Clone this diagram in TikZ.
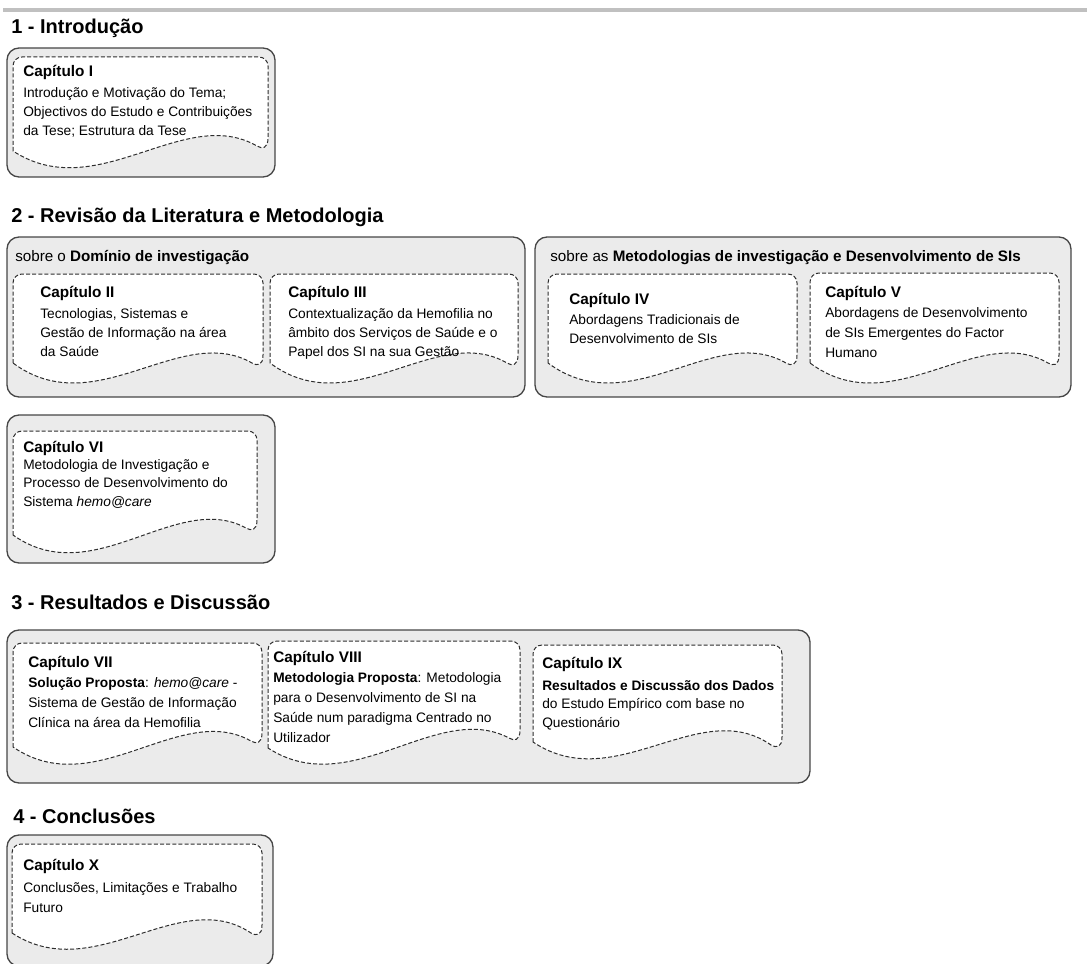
\documentclass[tikz,border=0pt]{standalone}
\usepackage{fontspec}
\setmainfont{Liberation Sans}
\definecolor{boxfill}{RGB}{235,235,235}
\definecolor{boxline}{RGB}{70,70,70}
\definecolor{docdash}{RGB}{45,45,45}
\definecolor{rulegray}{RGB}{192,192,192}

% dashed "document" sheet: #1 left x, #2 right x, #3 top y,
% #4 wave start (left), #5 wave trough, #6 wave end (right)
\newcommand\docbox[6]{%
  \draw[docline] (#1,#4) -- (#1,#3+9) .. controls (#1,#3+4) and (#1+4,#3) .. (#1+9,#3)
    -- (#2-9,#3) .. controls (#2-4,#3) and (#2,#3+4) .. (#2,#3+9)
    -- (#2,#6-10) .. controls (#2,#6+1) and (#2-6,#6+1) .. (#2-11,#6-2)
    .. controls ({#1+0.67*(#2-#1)},#5-62) and ({#1+0.33*(#2-#1)},#5+40) .. (#1,#4) -- cycle;}

% body lines of a chapter: #1 name prefix, #2 x, #3 first baseline, #4 line pitch, #5 lines
\newcommand\bodylines[5]{%
  \foreach \txt [count=\k] in {#5} {\node[bodytext] (#1-\k) at (#2,{#3+(\k-1)*#4}) {\txt};}}

\begin{document}
\begin{tikzpicture}[x=0.75pt,y=-0.75pt,
  sectiontitle/.style={anchor=base west,inner sep=0pt,font=\bfseries\fontsize{15}{18}\selectfont},
  chaptitle/.style={anchor=base west,inner sep=0pt,font=\bfseries\fontsize{11.5}{14}\selectfont},
  grouphead/.style={anchor=base west,inner sep=0pt,font=\fontsize{11.4}{14}\selectfont},
  bodytext/.style={anchor=base west,inner sep=0pt,font=\fontsize{10.3}{12}\selectfont},
  outerbox/.style={draw=boxline,fill=boxfill,line width=1pt,rounded corners=9pt},
  docline/.style={draw=docdash,fill=white,line width=0.75pt,dash pattern=on 3pt off 1.6pt},
  toprule/.style={draw=rulegray,line width=3pt}]
\useasboundingbox (0,0) rectangle (1087,963);
\clip (0,0) rectangle (1087,963);

\draw[toprule] (3,10) -- (1087,10);

% 1 - Introducao
\node[sectiontitle] (s1) at (11,34) {1 - Introdução};
\draw[outerbox] (7,48) rectangle (275,177);
\docbox{13}{268}{57}{151}{166}{148}
\node[chaptitle] (c1) at (23,77) {Capítulo I};
\bodylines{b1}{23}{98}{19}{{Introdução e Motivação do Tema;},{Objectivos do Estudo e Contribuições},{da Tese; Estrutura da Tese}}

% 2 - Revisao da Literatura e Metodologia
\node[sectiontitle] (s2) at (11,222) {2 - Revisão da Literatura e Metodologia};
\draw[outerbox] (7,237) rectangle (525,397);
\draw[outerbox] (535,237) rectangle (1071,397);
\node[grouphead] (ga) at (15,261) {sobre o \textbf{Domínio de investigação}};
\node[grouphead] (gb) at (550,261) {sobre as \textbf{Metodologias de investigação e Desenvolvimento de SIs}};

\docbox{13}{263}{274}{363}{384}{365}
\node[chaptitle] (c2) at (40,297) {Capítulo II};
\bodylines{b2}{40}{318}{19}{{Tecnologias, Sistemas  e},{Gestão de Informação na área},{da Saúde}}

\docbox{270}{518}{274}{363}{384}{365}
\node[chaptitle] (c3) at (288,297) {Capítulo III};
\bodylines{b3}{288}{318}{19}{{Contextualização da Hemofilia no},{âmbito dos Serviços de Saúde e o},{Papel dos SI na sua Gestão}}

\docbox{548}{797}{274}{363}{384}{365}
\node[chaptitle] (c4) at (569,304) {Capítulo IV};
\bodylines{b4}{569}{324}{19.5}{{Abordagens Tradicionais de},{Desenvolvimento de SIs}}

\docbox{810}{1059}{273}{363}{384}{365}
\node[chaptitle] (c5) at (825,297) {Capítulo V};
\bodylines{b5}{825}{317}{20}{{Abordagens de Desenvolvimento},{de SIs Emergentes do Factor},{Humano}}

\draw[outerbox] (7,415) rectangle (275,563);
\docbox{13}{257}{431}{535}{552}{530}
\node[chaptitle] (c6) at (23,452) {Capítulo VI};
\bodylines{b6}{23}{469}{18.5}{{Metodologia de Investigação e},{Processo de Desenvolvimento do},{Sistema \textit{hemo@care}}}

% 3 - Resultados e Discussao
\node[sectiontitle] (s3) at (11,609) {3 - Resultados e Discussão};
\draw[outerbox] (7,630) rectangle (810,783);

\docbox{13}{262}{643}{747}{763}{743}
\node[chaptitle] (c7) at (28,667) {Capítulo VII};
\bodylines{b7}{28}{687}{20}{{\textbf{Solução Proposta}: \textit{hemo@care} -},{Sistema de Gestão de Informação},{Clínica na área da Hemofilia}}

\docbox{268}{520}{641}{748}{762}{740}
\node[chaptitle] (c8) at (273,662) {Capítulo VIII};
\bodylines{b8}{273}{682}{20}{{\textbf{Metodologia Proposta}: Metodologia},{para o Desenvolvimento de SI na},{Saúde num paradigma Centrado no},{Utilizador}}

\docbox{533}{782}{645}{742}{757}{747}
\node[chaptitle] (c9) at (542,668) {Capítulo IX};
\bodylines{b9}{542}{690}{18.5}{{\textbf{Resultados e Discussão dos Dados}},{do Estudo Empírico com base no},{Questionário}}

% 4 - Conclusoes
\node[sectiontitle] (s4) at (13,823) {4 - Conclusões};
\draw[outerbox] (7,835) rectangle (273,966);
\docbox{12}{262}{844}{933}{947}{935}
\node[chaptitle] (c10) at (23,870) {Capítulo X};
\bodylines{b10}{23}{892}{20}{{Conclusões, Limitações e Trabalho},{Futuro}}
\end{tikzpicture}
\end{document}
